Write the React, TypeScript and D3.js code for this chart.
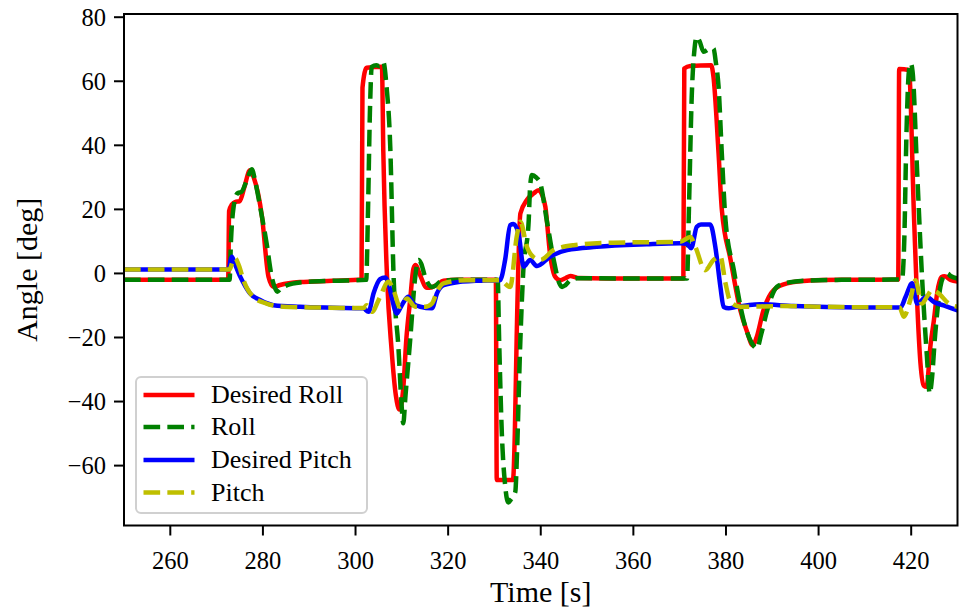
import React from "react";
import * as d3 from "d3";

// Time samples [s] and angles [deg] for each trace
const desiredRollT = [250, 272.5, 272.7, 273.3, 274.0, 275.0, 276.0, 277.2, 278.0, 279.8, 281.2, 282.3, 283.7, 288, 295, 301.3, 301.5, 302.4, 305.7, 306.0, 306.8, 307.8, 308.7, 309.5, 310.3, 311.0, 311.8, 312.5, 313.0, 313.8, 315.4, 316.5, 317.6, 319, 322, 330.3, 330.5, 334.0, 334.4, 334.8, 335.6, 337, 338.5, 339.5, 340.3, 341, 342, 343.1, 344.2, 345.3, 346.4, 348, 360, 370.8, 371.0, 372.3, 376.8, 377.3, 378.4, 379.1, 381, 383.1, 384.5, 385.8, 386.6, 388.1, 390.3, 393.2, 398.2, 405, 417.2, 417.4, 419.5, 420.6, 421.3, 422.0, 422.7, 423.3, 424.2, 424.9, 425.6, 426.5, 427.2, 428.5, 430];
const desiredRollV = [-2, -2, 19.5, 21.5, 22.3, 22.6, 27, 32.2, 30, 17.7, -1, -4.2, -3.6, -2.7, -2.3, -1.9, 58, 64.2, 64.5, 38, -1, -24, -38, -42.5, -36, -20, -8.3, 1.5, 2.6, 0, -4.5, -4.3, -3.5, -2.3, -2, -2, -64.5, -64.5, -50, -20, 18.7, 22.9, 25, 26, 24.5, 20.8, 6.2, -1, -2.1, -1.5, -0.8, -1.4, -1.6, -1.6, 64, 64.8, 65, 61.4, 37.5, 20, 4.2, -11.5, -18, -22.4, -20, -11.5, -5.2, -3.1, -2.2, -2, -1.9, 63.8, 63.5, 18, -9.4, -28, -35, -35.4, -22, -14.6, -6.2, -1.2, -0.9, -2, -2.5];

const rollT = [250, 272.8, 273.1, 273.6, 274.5, 275.4, 276.5, 277.6, 278.3, 279.4, 280.8, 281.9, 282.6, 283.1, 283.8, 285.2, 288, 295, 302.3, 302.7, 303.1, 303.5, 304.5, 305.2, 306.0, 306.7, 307.5, 308.2, 309.3, 309.9, 310.3, 310.8, 311.8, 312.9, 313.6, 314.2, 315, 316.5, 317.3, 318.3, 322, 330.7, 331.0, 331.6, 332.3, 333.0, 333.6, 334.5, 334.9, 335.5, 336.2, 337.4, 337.7, 338.1, 339.0, 339.9, 341.3, 342.8, 344, 344.6, 345.3, 346.4, 348, 360, 371.6, 372.0, 372.6, 373.2, 373.7, 374.3, 375.2, 376.3, 377.3, 377.8, 378.4, 379.1, 379.9, 381.7, 383.8, 385.5, 386.7, 387.6, 388.9, 391, 393.5, 398, 405, 418.0, 418.5, 419.0, 419.5, 419.9, 420.3, 421.3, 422.3, 423.4, 424.0, 424.4, 425.2, 426.3, 427.2, 427.8, 428.5, 430];
const rollV = [-2, -2, 10, 20, 25, 25.5, 29, 32.5, 29, 20.8, 9.4, -1, -4.5, -5.7, -4.8, -3.7, -2.8, -2.3, -2, 20, 50, 64.5, 65, 64.7, 66, 58.3, 39.5, 0, -24, -40, -46.8, -38, -20.8, -1, 4.2, 3, -1, -4.2, -3.8, -2.6, -2, -2, -20, -50, -66, -71.5, -70.5, -68.2, -55, -25, 0, 16.6, 27, 30.7, 30, 28.1, 16.6, 4.2, -3, -4.2, -3.7, -2.1, -1.5, -1.6, -1.6, 20, 55, 70, 73.9, 72.5, 69.2, 70, 70.2, 66, 58.3, 37.5, 16.6, 1, -14.6, -21.5, -23.4, -19, -11.5, -4.2, -2.8, -2.2, -2, -1.9, 10, 45, 63, 65.6, 63, 31.2, 0, -26, -37.5, -34, -18.7, -4.2, -0.5, 0, -0.8, -1.6];

const desiredPitchT = [250, 272.6, 273.0, 273.3, 273.8, 275.1, 276.2, 277.2, 279.4, 282.3, 288, 295, 301.7, 302.8, 303.9, 305.3, 306.4, 307.1, 307.8, 308.9, 309.6, 310.4, 311.4, 312.5, 314, 316.5, 317.6, 319, 322.6, 326, 331.2, 332.3, 333.4, 334.1, 335.2, 336.3, 337.7, 339.2, 342, 345.7, 352.1, 362.9, 370.1, 371.5, 372.5, 373.7, 374.6, 376.6, 377.7, 378.8, 379.5, 380.6, 382, 387.3, 394.6, 409, 417.7, 418.8, 420.2, 421.3, 423.3, 425, 427, 430];
const desiredPitchV = [1.2, 1.2, 4, 5.2, 3.5, -1, -4, -6.2, -8.3, -9.9, -10.4, -10.7, -10.9, -12, -6.2, -1.8, -1.25, -3, -7.3, -12.5, -11, -8.9, -7.3, -9.4, -10.4, -10.9, -6.2, -3.7, -2.6, -2.3, -2.1, 4.2, 15.1, 15.4, 12.5, 2.1, 4.2, 2.3, 5.2, 7.3, 8.3, 9.1, 9.4, 9.3, 7.9, 14.6, 15.3, 15.3, 8.3, -4.2, -10.5, -10.9, -10.5, -9.6, -10.2, -10.6, -10.6, -7.3, -3.1, -9.4, -7.3, -9, -10, -11.5];

const pitchT = [250, 272.8, 273.4, 274.0, 274.8, 275.8, 277.9, 280.8, 284.4, 290, 301.8, 302.4, 303.5, 305.3, 307.1, 308.2, 309.6, 311.1, 312.9, 315, 316.5, 317.6, 319, 324, 331.2, 333.4, 334.8, 335.6, 337, 338.8, 339.9, 342.8, 347.1, 355.7, 370.1, 372.3, 373.4, 375.5, 377.3, 378.8, 379.9, 381, 383.1, 391.7, 405, 417.5, 418.4, 419.8, 420.9, 422.3, 423.5, 424.5, 425.9, 428.1, 430];
const pitchV = [1.2, 1.2, 3.5, 4.7, 2.5, -2.1, -7.3, -9.4, -10.4, -10.6, -10.8, -9.9, -12, -7.3, -2.6, -5.2, -10.4, -7.8, -10.4, -10.4, -9.4, -5.7, -3.1, -2.1, -2.1, -4.2, 11.4, 16.1, 8.3, 4.7, 4.2, 7.3, 8.8, 9.6, 9.9, 11.4, 8.3, 1, 4.2, 5.2, -3.1, -8.9, -10.4, -10.2, -10.5, -10.6, -13.5, -8.3, -2.1, -9.4, -7, -5.2, -6.2, -9.4, -10.4];

const xTicks = [260, 280, 300, 320, 340, 360, 380, 400, 420];
const yTicks = [-60, -40, -20, 0, 20, 40, 60, 80];

const seriesNames = ["Desired Roll", "Roll", "Desired Pitch", "Pitch"];
const seriesColors = ["#ff0000", "#008000", "#0000ff", "#bfbf00"];
const seriesDashed = [false, true, false, true];
const seriesT = [desiredRollT, rollT, desiredPitchT, pitchT];
const seriesV = [desiredRollV, rollV, desiredPitchV, pitchV];

const W = 962;
const H = 610;
const left = 124;
const right = 957.5;
const top = 14;
const bottom = 525.5;

const FONT = "'Liberation Serif', 'DejaVu Serif', serif";
const LW = 4.5;
const DASH = `${3.7 * LW} ${1.6 * LW}`;

const fmt = (v: number) => (v < 0 ? "\u2212" + Math.abs(v) : String(v));

export default function App() {
  const x = d3.scaleLinear().domain([250, 430]).range([left, right]);
  const y = d3.scaleLinear().domain([-78.7, 81.0]).range([bottom, top]);

  const line = d3
    .line<[number, number]>()
    .x((d) => x(d[0]))
    .y((d) => y(d[1]))
    .curve(d3.curveMonotoneX);

  const paths = seriesT.map((ts, i) =>
    line(ts.map((t, j) => [t, seriesV[i][j]] as [number, number]))
  );

  const legX = 136;
  const legY = 377;
  const legW = 231;
  const legH = 136;
  const rowY = [395, 427, 460, 492.5];

  return (
    <svg
      width={W}
      height={H}
      style={{ position: "absolute", left: 0, top: 0, background: "#fff" }}
      fontFamily={FONT}
    >
      <rect x={0} y={0} width={W} height={H} fill="#fff" />
      <defs>
        <clipPath id="plot-clip">
          <rect x={left} y={top} width={right - left} height={bottom - top} />
        </clipPath>
      </defs>

      <g clipPath="url(#plot-clip)">
        {paths.map((p, i) => (
          <path
            key={seriesNames[i]}
            d={p || ""}
            fill="none"
            stroke={seriesColors[i]}
            strokeWidth={LW}
            strokeDasharray={seriesDashed[i] ? DASH : undefined}
            strokeLinejoin="round"
            strokeLinecap={seriesDashed[i] ? "butt" : "square"}
          />
        ))}
      </g>

      {/* spines */}
      <rect
        x={left}
        y={top}
        width={right - left}
        height={bottom - top}
        fill="none"
        stroke="#000"
        strokeWidth={2}
      />

      {/* x ticks */}
      {xTicks.map((t) => (
        <g key={"x" + t}>
          <line x1={x(t)} x2={x(t)} y1={bottom} y2={bottom + 10} stroke="#000" strokeWidth={2} />
          <text x={x(t)} y={569} fontSize={24.5} textAnchor="middle" fill="#000">
            {fmt(t)}
          </text>
        </g>
      ))}

      {/* y ticks */}
      {yTicks.map((t) => (
        <g key={"y" + t}>
          <line x1={left - 10} x2={left} y1={y(t)} y2={y(t)} stroke="#000" strokeWidth={2} />
          <text x={106} y={y(t) + 8.5} fontSize={24.5} textAnchor="end" fill="#000">
            {fmt(t)}
          </text>
        </g>
      ))}

      <text x={(left + right) / 2} y={602} fontSize={30} textAnchor="middle" fill="#000">
        Time [s]
      </text>
      <text
        transform={`translate(37,${(top + bottom) / 2}) rotate(-90)`}
        fontSize={30}
        textAnchor="middle"
        fill="#000"
      >
        Angle [deg]
      </text>

      {/* legend */}
      <rect
        x={legX}
        y={legY}
        width={legW}
        height={legH}
        rx={5}
        fill="#fff"
        fillOpacity={0.8}
        stroke="#d0d0d0"
        strokeWidth={2}
      />
      {seriesNames.map((name, i) => (
        <g key={"leg" + name}>
          <line
            x1={143.5}
            x2={194.5}
            y1={rowY[i]}
            y2={rowY[i]}
            stroke={seriesColors[i]}
            strokeWidth={LW}
            strokeDasharray={seriesDashed[i] ? DASH : undefined}
          />
          <text x={211} y={rowY[i] + 8} fontSize={26} fill="#000">
            {name}
          </text>
        </g>
      ))}
    </svg>
  );
}
